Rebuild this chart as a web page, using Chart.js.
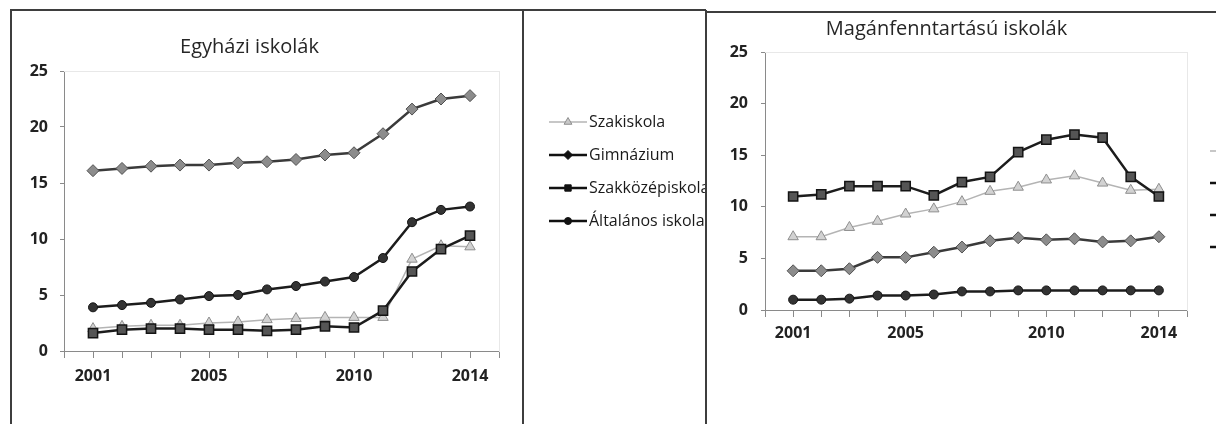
<!DOCTYPE html>
<html><head><meta charset="utf-8">
<script src="https://cdn.jsdelivr.net/npm/chart.js@4.4.1/dist/chart.umd.min.js"></script>
<style>
html,body{margin:0;padding:0;width:1216px;height:424px;overflow:hidden;background:#fff;}
.cv{position:absolute;top:0;}
.ln{position:absolute;background:#3e3e3e;z-index:5;}
</style></head><body>
<div class="cv" style="left:0;"><canvas id="c1" width="523" height="424"></canvas></div>
<div class="cv" style="left:523px;"><canvas id="c2" width="183" height="424"></canvas></div>
<div class="cv" style="left:706px;"><canvas id="c3" width="490" height="424"></canvas></div>
<div class="cv" style="left:1185px;"><canvas id="c4" width="120" height="424"></canvas></div>
<div class="ln" style="left:10px;top:9px;width:696px;height:2px"></div>
<div class="ln" style="left:706px;top:11px;width:510px;height:2px"></div>
<div class="ln" style="left:10px;top:9px;width:2px;height:415px"></div>
<div class="ln" style="left:522px;top:9px;width:2px;height:415px"></div>
<div class="ln" style="left:705px;top:10px;width:2px;height:414px"></div>
<script>
const years = [2001,2002,2003,2004,2005,2006,2007,2008,2009,2010,2011,2012,2013,2014];
const xTickLabels = [2001,2005,2010,2014];
const seriesNames = ['Szakiskola','Gimnázium','Szakközépiskola','Általános iskola'];
const titles = ['Egyházi iskolák','Magánfenntartású iskolák'];

// Egyházi iskolák
const egyhaziSzakiskola    = [2.0,2.2,2.3,2.3,2.5,2.6,2.8,2.9,3.0,3.0,3.0,8.2,9.4,9.3];
const egyhaziGimnazium     = [16.1,16.3,16.5,16.6,16.6,16.8,16.9,17.1,17.5,17.7,19.4,21.6,22.5,22.8];
const egyhaziSzakkozep     = [1.6,1.9,2.0,2.0,1.9,1.9,1.8,1.9,2.2,2.1,3.6,7.1,9.1,10.3];
const egyhaziAltalanos     = [3.9,4.1,4.3,4.6,4.9,5.0,5.5,5.8,6.2,6.6,8.3,11.5,12.6,12.9];

// Magánfenntartású iskolák
const maganSzakiskola      = [7.1,7.1,8.0,8.6,9.3,9.8,10.5,11.5,11.9,12.6,13.0,12.3,11.6,11.7];
const maganGimnazium       = [3.8,3.8,4.0,5.1,5.1,5.6,6.1,6.7,7.0,6.8,6.9,6.6,6.7,7.1];
const maganSzakkozep       = [11.0,11.2,12.0,12.0,12.0,11.1,12.4,12.9,15.3,16.5,17.0,16.7,12.9,11.0];
const maganAltalanos       = [1.0,1.0,1.1,1.4,1.4,1.5,1.8,1.8,1.9,1.9,1.9,1.9,1.9,1.9];

const FONT = '"Open Sans"';
const styles = [
  {borderColor:'#b4b4b4', borderWidth:1.5, pointStyle:'triangle', pointRadius:6, pointBackgroundColor:'#d2d2d2', pointBorderColor:'#8e8e8e', pointBorderWidth:1, order:4},
  {borderColor:'#3a3a3a', borderWidth:2.5, pointStyle:'rectRot', pointRadius:6, pointBackgroundColor:'#8c8c8c', pointBorderColor:'#505050', pointBorderWidth:1, order:3},
  {borderColor:'#1c1c1c', borderWidth:2.5, pointStyle:'rect', pointRadius:6.5, pointBackgroundColor:'#555', pointBorderColor:'#141414', pointBorderWidth:1.5, order:2},
  {borderColor:'#1c1c1c', borderWidth:2.5, pointStyle:'circle', pointRadius:4.5, pointBackgroundColor:'#333', pointBorderColor:'#141414', pointBorderWidth:1, order:1}
];

function buildDatasets(arrs){
  return arrs.map((vals,i)=>Object.assign({
    label: seriesNames[i],
    data: years.map((x,j)=>({x:x, y:vals[j]})),
    tension:0, fill:false, pointHoverRadius:6
  }, styles[i]));
}

function mainChart(id, title, arrs, L){
  const axisCol = '#8a8a8a';
  return new Chart(document.getElementById(id), {
    type:'line',
    data:{datasets: buildDatasets(arrs)},
    options:{
      responsive:false, animation:false, devicePixelRatio:1,
      layout:{padding:{left:0, right:L.padRight, top:0, bottom:0}},
      plugins:{
        legend:{display:false}, tooltip:{enabled:false},
        title:{display:true, text:title, color:'#262626',
          font:{family:FONT, size:20, weight:'normal'},
          padding:{top:L.titleTop, bottom:L.titleBottom}}
      },
      scales:{
        x:{type:'linear', position:'bottom', min:2000, max:2015,
          ticks:{stepSize:1, autoSkip:false, maxRotation:0, padding:L.xPad, color:'#222',
            font:{family:FONT, size:16, weight:'bold'},
            callback:v => xTickLabels.includes(v) ? String(v) : ''},
          grid:{display:true, drawOnChartArea:false, drawTicks:true, tickLength:7, color:axisCol},
          border:{display:true, color:axisCol, width:1},
          afterFit:s => { s.height = L.xH; }
        },
        y:{type:'linear', position:'left', min:0, max:25,
          ticks:{stepSize:5, padding:L.yPad, color:'#222', font:{family:FONT, size:16, weight:'bold'}},
          grid:{display:true, drawOnChartArea:false, drawTicks:true, tickLength:4, color:axisCol},
          border:{display:true, color:axisCol, width:1},
          afterFit:s => { s.width = L.yW; }
        },
        xTop:{type:'linear', position:'top', min:2000, max:2015, display:true,
          grid:{display:false}, ticks:{display:false},
          border:{display:true, color:'#e8e8e8', width:1},
          afterFit:s => { s.height = 0; }
        },
        yRight:{type:'linear', position:'right', min:0, max:25, display:true,
          grid:{display:false}, ticks:{display:false},
          border:{display:true, color:'#e8e8e8', width:1},
          afterFit:s => { s.width = 0; }
        }
      }
    }
  });
}

mainChart('c1', titles[0], [egyhaziSzakiskola, egyhaziGimnazium, egyhaziSzakkozep, egyhaziAltalanos],
  {padRight:24, titleTop:35, titleBottom:12, xPad:9, xH:73, yPad:12, yW:64});
mainChart('c3', titles[1], [maganSzakiskola, maganGimnazium, maganSzakkozep, maganAltalanos],
  {padRight:9, titleTop:17, titleBottom:11, xPad:7, xH:114, yPad:13, yW:59});

// legend icons (line + marker), markers drawn with Chart.js helper
function makeIcon(i){
  const c = document.createElement('canvas'); c.width = 38; c.height = 14;
  const g = c.getContext('2d');
  const st = styles[i];
  g.strokeStyle = i === 0 ? '#b4b4b4' : '#111'; g.lineWidth = i === 0 ? 1.5 : 2.5;
  g.beginPath(); g.moveTo(0,7); g.lineTo(38,7); g.stroke();
  g.fillStyle = i === 0 ? '#c8c8c8' : '#111';
  g.strokeStyle = i === 0 ? '#8e8e8e' : '#111';
  g.lineWidth = 1;
  const r = i === 3 ? 3.5 : 4.5;
  Chart.helpers.drawPoint(g, {pointStyle: st.pointStyle, radius: r, borderWidth: 1, rotation: 0}, 19, 7);
  return c;
}
const icons = seriesNames.map((n,i)=>makeIcon(i));

function legendChart(id, padTop, spacing){
  return new Chart(document.getElementById(id), {
    type:'line',
    data:{datasets: seriesNames.map(n=>({label:n, data:[]}))},
    options:{
      responsive:false, animation:false, devicePixelRatio:1,
      layout:{padding:{left:15, top:padTop, right:0, bottom:0}},
      scales:{x:{display:false}, y:{display:false}},
      plugins:{
        tooltip:{enabled:false}, title:{display:false},
        legend:{display:true, position:'top', align:'start', maxHeight:400,
          labels:{usePointStyle:true, pointStyleWidth:26, padding:spacing, color:'#1a1a1a',
            font:{family:FONT, size:16},
            generateLabels: ch => seriesNames.map((n,i)=>({
              text:n, pointStyle:icons[i], hidden:false, datasetIndex:i, lineWidth:0,
              fillStyle:'rgba(0,0,0,0)', strokeStyle:'rgba(0,0,0,0)', fontColor:'#1a1a1a'}))
          }
        }
      }
    }
  });
}
legendChart('c2', 97, 17);
legendChart('c4', 127, 16);
</script>
</body></html>
